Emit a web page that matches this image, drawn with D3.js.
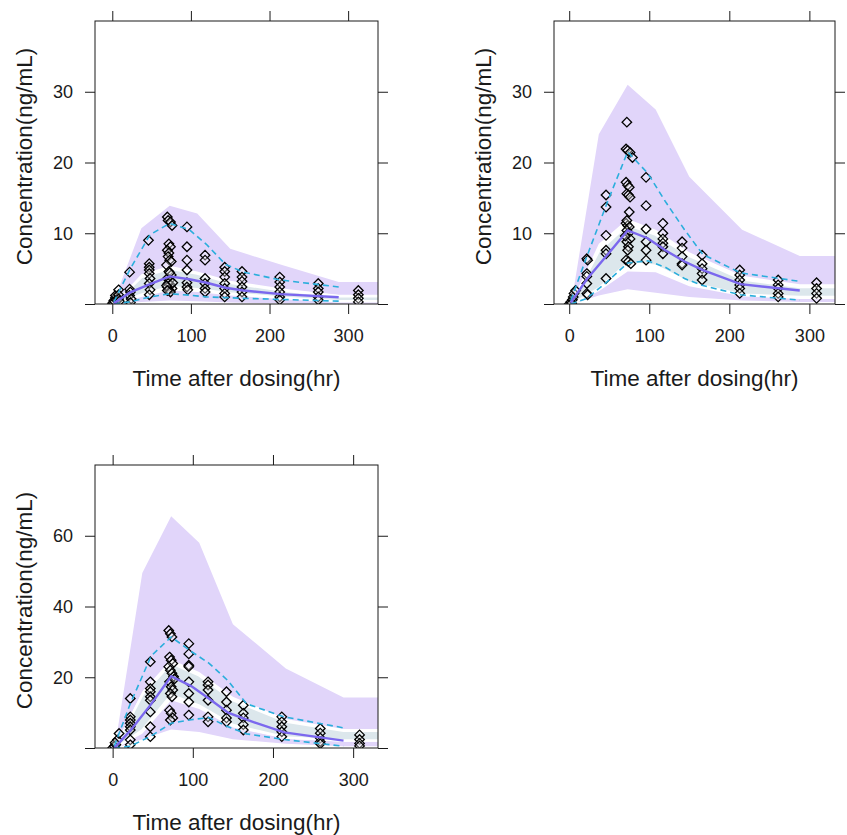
<!DOCTYPE html>
<html>
<head>
<meta charset="utf-8">
<script src="https://cdn.jsdelivr.net/npm/d3@7"></script>
<style>
  body { margin: 0; background: #fff; }
  svg { display: block; font-family: Arial, "Liberation Sans", sans-serif; }
</style>
</head>
<body>
<svg id="chart" width="847" height="835"></svg>
<script>
// Bin mid-times for observed percentile lines, and for the simulated interval bands
const binTimes  = [2, 22, 48, 73, 98, 120, 144, 167, 214, 288];
const bandTimes = [4, 37, 73, 108, 150, 216, 288, 345];

const xTicks = [0, 100, 200, 300];
const yTicksLow = [0, 10, 20, 30];
const yTicksHigh = [0, 20, 40, 60];
const xTitle = "Time after dosing(hr)";
const yTitle = "Concentration(ng/mL)";

// ---- Panel 1 ----
const p1Obs95  = [0.3, 4.8, 9.8, 11.4, 10.5, 8.4, 5.6, 4.5, 3.4, 2.4];
const p1ObsMed = [0.1, 1.6, 2.8, 3.9, 3.5, 3.0, 2.3, 1.9, 1.4, 0.95];
const p1Obs5   = [0.0, 0.3, 1.0, 1.45, 1.25, 1.0, 0.9, 0.8, 0.65, 0.4];
const p1HiTop  = [1.0, 10.7, 13.9, 12.8, 7.8, 5.5, 3.1, 3.1];
const p1HiBot  = [0.3, 4.2, 5.4, 4.6, 3.3, 2.2, 1.3, 1.3];
const p1MedHi  = [0.2, 3.8, 5.0, 4.3, 3.0, 1.9, 1.1, 1.1];
const p1MedLo  = [0.0, 1.3, 2.4, 2.1, 1.5, 0.9, 0.4, 0.4];
const p1LoTop  = [0.0, 1.0, 1.9, 1.7, 1.2, 0.7, 0.3, 0.3];
const p1LoBot  = [0.0, 0.3, 0.5, 0.4, 0.2, 0.1, 0.05, 0.05];
const p1Points = [
  [0,0],[1,0.2],[2,0.5],[3,0.3],[4,0.9],[4,1.2],[5,0.6],
  [8,2.0],[8,1.3],[8,0.7],[9,0.4],
  [22,4.5],[22,2.1],[23,1.7],[22,1.2],[24,0.7],[23,0.2],
  [46,9.0],[47,5.7],[47,5.2],[47,4.8],[47,4.3],[48,3.6],[47,2.9],[48,2.0],[47,1.3],
  [70,12.3],[71,11.8],[74,11.6],[76,11.1],[72,8.5],[74,8.1],[70,7.6],[72,7.2],[71,6.7],[73,6.2],
  [75,6.0],[69,5.5],[72,4.6],[75,4.1],[70,3.6],[73,3.4],[71,2.9],[74,2.7],[70,2.4],[76,2.2],
  [72,2.0],[74,1.7],[69,2.6],[77,3.0],[73,4.4],[70,1.9],
  [95,10.9],[95,8.1],[95,6.2],[95,4.8],[95,3.0],[95,2.4],[96,2.0],
  [118,6.9],[118,6.2],[118,3.6],[118,2.9],[118,2.2],[118,1.7],
  [143,5.2],[143,4.6],[143,3.8],[143,2.9],[143,2.2],[143,1.5],[143,1.0],
  [165,4.6],[165,3.8],[165,3.2],[165,2.4],[165,1.7],[165,1.0],
  [213,3.8],[213,3.1],[213,2.4],[213,1.7],[213,1.0],[213,0.56],
  [262,2.9],[262,2.2],[262,1.7],[262,1.0],[262,0.56],
  [313,1.9],[313,1.3],[313,0.8],[313,0.3]
];

// ---- Panel 2 ----
const p2Obs95  = [0.5, 6.7, 14.5, 21.5, 18.5, 14.5, 10.5, 7.0, 4.4, 3.2];
const p2ObsMed = [0.2, 3.5, 7.0, 10.4, 9.3, 7.6, 6.0, 4.8, 2.8, 1.9];
const p2Obs5   = [0.0, 0.8, 3.2, 5.8, 6.1, 5.2, 3.6, 2.6, 1.3, 0.55];
const p2HiTop  = [1.0, 24.0, 31.0, 27.5, 18.0, 10.5, 6.8, 6.8];
const p2HiBot  = [0.5, 8.5, 12.0, 10.5, 7.3, 4.0, 2.8, 2.8];
const p2MedHi  = [0.3, 7.5, 11.2, 9.8, 6.8, 3.5, 2.4, 2.4];
const p2MedLo  = [0.0, 2.2, 5.8, 5.4, 3.0, 1.3, 1.0, 1.0];
const p2LoTop  = [0.0, 1.8, 4.6, 4.5, 2.5, 1.1, 0.7, 0.7];
const p2LoBot  = [0.0, 1.2, 2.1, 1.6, 1.0, 0.5, 0.3, 0.3];
const p2Points = [
  [0,0],[2,0.3],[4,0.6],[5,1.0],[6,1.5],[8,1.9],[3,0.1],
  [22,6.4],[23,6.2],[22,4.3],[22,3.9],[22,2.9],[22,1.5],[23,1.3],
  [46,15.4],[46,13.7],[46,9.7],[46,7.6],[46,7.1],[46,3.6],
  [72,25.7],[71,21.9],[73,21.7],[76,21.4],[79,20.7],[71,17.2],[73,16.8],[75,16.5],[72,15.6],
  [74,15.4],[76,15.1],[75,13.0],[71,11.4],[73,11.1],[75,10.9],[72,10.4],[74,10.0],[76,9.2],
  [72,8.8],[74,8.1],[73,7.6],[71,6.2],[74,6.0],[77,5.7],[72,11.8],[70,9.6],
  [96,17.9],[96,13.9],[96,10.6],[96,8.8],[96,7.6],[96,6.2],
  [117,11.4],[117,10.0],[117,9.2],[117,8.6],[117,8.1],[117,7.1],
  [141,8.8],[141,7.9],[141,6.7],[141,5.7],[141,5.5],
  [166,6.9],[166,5.7],[166,5.0],[166,4.3],[166,3.4],
  [213,4.8],[213,4.1],[213,3.4],[213,2.7],[213,2.2],[213,1.5],
  [261,3.4],[261,2.7],[261,2.2],[261,1.5],[261,1.0],
  [309,3.0],[309,2.2],[309,1.5],[309,0.8]
];

// ---- Panel 3 ----
const p3Obs95  = [0.5, 12.5, 26.0, 31.4, 27.3, 24.0, 19.0, 12.5, 8.8, 5.7];
const p3ObsMed = [0.0, 4.9, 12.4, 20.3, 17.5, 14.0, 10.0, 8.0, 4.4, 2.1];
const p3Obs5   = [0.0, 0.5, 3.4, 7.0, 8.0, 8.6, 6.0, 4.0, 2.4, 0.5];
const p3HiTop  = [2.0, 49.5, 65.5, 58.0, 35.0, 22.5, 14.3, 14.3];
const p3HiBot  = [0.8, 16.0, 25.0, 21.5, 14.5, 8.2, 5.4, 5.4];
const p3MedHi  = [0.5, 15.0, 24.0, 20.5, 13.5, 7.5, 4.9, 4.9];
const p3MedLo  = [0.0, 5.0, 15.0, 12.0, 6.5, 3.0, 2.1, 2.1];
const p3LoTop  = [0.0, 4.0, 13.5, 11.0, 5.8, 2.6, 1.8, 1.8];
const p3LoBot  = [0.0, 2.5, 5.2, 4.5, 2.5, 1.2, 0.5, 0.5];
const p3Points = [
  [0,0],[2,0.5],[4,0.9],[6,2.3],[8,4.1],[3,1.5],
  [22,14.0],[22,8.8],[22,7.9],[22,7.0],[22,6.0],[22,5.1],[22,2.3],[22,0.9],
  [47,24.4],[47,18.7],[47,16.8],[47,15.9],[47,14.5],[47,13.5],[47,10.2],[47,6.0],[47,3.2],
  [70,33.2],[72,32.3],[74,31.4],[71,25.7],[73,24.8],[75,23.9],[70,23.0],[72,22.0],[74,21.1],
  [76,20.2],[71,18.7],[73,17.3],[75,16.4],[72,15.4],[74,14.5],[71,10.7],[73,9.8],[75,8.5],
  [72,7.9],[77,19.5],
  [95,29.5],[95,26.6],[95,23.4],[95,23.0],[95,18.7],[95,15.4],[95,13.0],[95,9.3],
  [119,18.7],[119,17.8],[119,16.4],[119,13.5],[119,8.8],[119,7.4],
  [142,15.9],[142,13.0],[142,10.7],[142,8.5],[142,7.4],
  [163,12.1],[163,9.8],[163,8.5],[163,6.6],[163,5.1],
  [211,8.8],[211,7.4],[211,6.0],[211,4.6],[211,3.2],
  [259,5.5],[259,4.2],[259,2.8],[259,1.8],[259,1.2],
  [308,3.7],[308,2.4],[308,1.3],[308,0.6]
];

const colPI = "#E1D5FA";
const colMedCI = "#DCE7EC";
const colMedian = "#7B68EE";
const colDash = "#2AAEDC";
const colInk = "#1a1a1a";

const panels = [
  { left: 95,  top: 21,  width: 283, height: 283, xDomain: [-22, 338], yDomain: [0, 40], yTicks: yTicksLow,
    obs95: p1Obs95, obsMed: p1ObsMed, obs5: p1Obs5, hiTop: p1HiTop, hiBot: p1HiBot,
    medHi: p1MedHi, medLo: p1MedLo, loTop: p1LoTop, loBot: p1LoBot, points: p1Points },
  { left: 554, top: 21,  width: 281, height: 283, xDomain: [-19, 332], yDomain: [0, 40], yTicks: yTicksLow,
    obs95: p2Obs95, obsMed: p2ObsMed, obs5: p2Obs5, hiTop: p2HiTop, hiBot: p2HiBot,
    medHi: p2MedHi, medLo: p2MedLo, loTop: p2LoTop, loBot: p2LoBot, points: p2Points },
  { left: 95,  top: 465, width: 283, height: 283, xDomain: [-22, 331], yDomain: [0, 80], yTicks: yTicksHigh,
    obs95: p3Obs95, obsMed: p3ObsMed, obs5: p3Obs5, hiTop: p3HiTop, hiBot: p3HiBot,
    medHi: p3MedHi, medLo: p3MedLo, loTop: p3LoTop, loBot: p3LoBot, points: p3Points }
];

const svg = d3.select("#chart");
const diamond = d3.symbol().type(d3.symbolDiamond2).size(58);

panels.forEach((p, i) => {
  const g = svg.append("g").attr("transform", `translate(${p.left},${p.top})`);
  const x = d3.scaleLinear().domain(p.xDomain).range([0, p.width]);
  const y = d3.scaleLinear().domain(p.yDomain).range([p.height, 0]);

  const clipId = "clip" + i;
  g.append("clipPath").attr("id", clipId)
    .append("rect").attr("width", p.width).attr("height", p.height);
  const plot = g.append("g").attr("clip-path", `url(#${clipId})`);

  const band = (top, bot) => d3.area()
    .x((d, j) => x(bandTimes[j]))
    .y0((d, j) => y(bot[j]))
    .y1((d, j) => y(top[j]))(bandTimes);

  // simulated prediction intervals: upper and lower percentile CIs, then median CI
  plot.append("path").attr("d", band(p.hiTop, p.hiBot)).attr("fill", colPI);
  plot.append("path").attr("d", band(p.loTop, p.loBot)).attr("fill", colPI);
  plot.append("path").attr("d", band(p.medHi, p.medLo))
    .attr("fill", colMedCI).attr("stroke", "#fff").attr("stroke-width", 2.5);

  // observations
  plot.selectAll("path.obs").data(p.points).join("path")
    .attr("class", "obs")
    .attr("d", diamond)
    .attr("transform", d => `translate(${x(d[0])},${y(d[1])})`)
    .attr("fill", "#fff").attr("fill-opacity", 0.35)
    .attr("stroke", "#000").attr("stroke-width", 1.3);

  // observed percentile lines
  const line = vals => d3.line().x((d, j) => x(binTimes[j])).y(d => y(d))(vals);
  [p.obs95, p.obs5].forEach(vals => {
    plot.append("path").attr("d", line(vals)).attr("fill", "none")
      .attr("stroke", colDash).attr("stroke-width", 1.6).attr("stroke-dasharray", "6,4");
  });
  plot.append("path").attr("d", line(p.obsMed)).attr("fill", "none")
    .attr("stroke", colMedian).attr("stroke-width", 2.4);

  // axes on all four sides, labels on left and bottom
  const tick = 10;
  g.append("g").attr("transform", `translate(0,${p.height})`)
    .call(d3.axisBottom(x).tickValues(xTicks).tickSize(tick).tickPadding(15))
    .call(a => a.select(".domain").remove());
  g.append("g")
    .call(d3.axisTop(x).tickValues(xTicks).tickSize(tick).tickFormat(""))
    .call(a => a.select(".domain").remove());
  g.append("g")
    .call(d3.axisLeft(y).tickValues(p.yTicks).tickSize(tick).tickPadding(12)
      .tickFormat(v => v === 0 ? "" : v))
    .call(a => a.select(".domain").remove());
  g.append("g").attr("transform", `translate(${p.width},0)`)
    .call(d3.axisRight(y).tickValues(p.yTicks).tickSize(tick).tickFormat(""))
    .call(a => a.select(".domain").remove());

  g.selectAll(".tick line").attr("stroke", colInk);
  g.selectAll(".tick text").attr("font-size", 18).attr("fill", colInk)
    .attr("font-family", "Arial, 'Liberation Sans', sans-serif");

  g.append("rect").attr("width", p.width).attr("height", p.height)
    .attr("fill", "none").attr("stroke", colInk).attr("stroke-width", 1);

  g.append("text").attr("x", p.width / 2).attr("y", p.height + 82)
    .attr("text-anchor", "middle").attr("font-size", 22.5).attr("fill", colInk)
    .text(xTitle);
  g.append("text")
    .attr("transform", `translate(${-63},${p.height / 2 - 6}) rotate(-90)`)
    .attr("text-anchor", "middle").attr("font-size", 22.5).attr("fill", colInk)
    .text(yTitle);
});
</script>
</body>
</html>
